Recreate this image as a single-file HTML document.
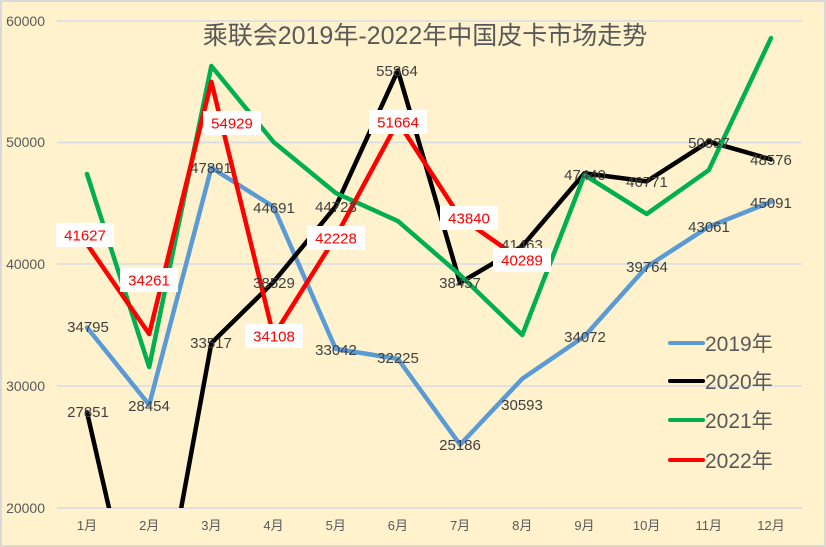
<!DOCTYPE html>
<html><head><meta charset="utf-8"><style>
html,body{margin:0;padding:0;background:#fff;width:826px;height:547px;overflow:hidden}
svg{display:block}
text{font-family:"Liberation Sans","Noto Sans CJK SC",sans-serif}
</style></head><body>
<svg id="s" width="826" height="547" xmlns="http://www.w3.org/2000/svg">
<defs><clipPath id="c"><rect x="50" y="0" width="760" height="508"/></clipPath></defs>
<rect x="1" y="1" width="824" height="545" fill="#FFF2CC" stroke="#D9D9D9" stroke-width="2"/>
<g stroke="#D6DCE5" stroke-width="1.5">
<line x1="57" x2="802" y1="21" y2="21"/><line x1="57" x2="802" y1="142.5" y2="142.5"/><line x1="57" x2="802" y1="264" y2="264"/><line x1="57" x2="802" y1="386" y2="386"/><line x1="57" x2="802" y1="508" y2="508"/>
</g>
<g font-size="14" fill="#595959" text-anchor="end">
<text x="45" y="26">60000</text><text x="45" y="147">50000</text><text x="45" y="269">40000</text><text x="45" y="391">30000</text><text x="45" y="513">20000</text>
</g>
<g id="months" font-size="13" fill="#595959" text-anchor="middle"></g>
<text x="425" y="44" font-size="25" fill="#595959" text-anchor="middle">乘联会2019年-2022年中国皮卡市场走势</text>
<g id="lines" clip-path="url(#c)" fill="none" stroke-width="4.5" stroke-linejoin="round" stroke-linecap="round"></g>
<g font-size="15" fill="#404040" text-anchor="middle">
<text x="88" y="332">34795</text><text x="149" y="411">28454</text><text x="211" y="173">47891</text><text x="274" y="213">44691</text><text x="336" y="355">33042</text><text x="398" y="363">32225</text><text x="460" y="450">25186</text><text x="522" y="410">30593</text><text x="585" y="342">34072</text><text x="647" y="272">39764</text><text x="709" y="232">43061</text><text x="771" y="208">45091</text>
<text x="88" y="417">27851</text><text x="211" y="348">33517</text><text x="274" y="288">38529</text><text x="336" y="212">44723</text><text x="397" y="76">55864</text><text x="460" y="288">38457</text><text x="522" y="250">41463</text><text x="585" y="180">47440</text><text x="647" y="187">46771</text><text x="709" y="148">50037</text><text x="771" y="165">48576</text>
</g>
<g id="boxes"></g>
<g font-size="21" fill="#595959">
<line x1="670" x2="703" y1="343" y2="343" stroke="#5B9BD5" stroke-width="4" stroke-linecap="round"/><text x="705" y="351">2019年</text>
<line x1="670" x2="703" y1="381" y2="381" stroke="#000" stroke-width="4" stroke-linecap="round"/><text x="705" y="389">2020年</text>
<line x1="670" x2="703" y1="420" y2="420" stroke="#00B050" stroke-width="4" stroke-linecap="round"/><text x="705" y="428">2021年</text>
<line x1="670" x2="703" y1="460" y2="460" stroke="#FF0000" stroke-width="4" stroke-linecap="round"/><text x="705" y="468">2022年</text>
</g>
</svg>
<script>
var NS="http://www.w3.org/2000/svg";
function X(i){return 87+i*62.18}
function Y(v){return 508-(v-20000)*0.0122}
var m=document.getElementById("months");
for(var i=0;i<12;i++){var t=document.createElementNS(NS,"text");t.setAttribute("x",X(i));t.setAttribute("y",530);t.textContent=(i+1)+"月";m.appendChild(t);}
var S=[
["#5B9BD5",[34795,28454,47891,44691,33042,32225,25186,30593,34072,39764,43061,45091]],
["#000000",[27851,5650,33517,38529,44723,55864,38457,41463,47440,46771,50037,48576]],
["#00B050",[47377,31557,56230,50000,45820,43520,39100,34180,47300,44100,47700,58520]],
["#FF0000",[41627,34261,54929,34108,42228,51664,43840,40289]]];
var g=document.getElementById("lines");
S.forEach(function(s){var p=s[1].map(function(v,i){return X(i)+","+Y(v)}).join(" ");
var l=document.createElementNS(NS,"polyline");l.setAttribute("points",p);l.setAttribute("stroke",s[0]);g.appendChild(l);});
var B=[[41627,85,235],[34261,149,280],[54929,232,123],[34108,274,336],[42228,336,238],[51664,398,122],[43840,469,218],[40289,522,260]];
var b=document.getElementById("boxes");
B.forEach(function(d){var r=document.createElementNS(NS,"rect");r.setAttribute("x",d[1]-29);r.setAttribute("y",d[2]-12);r.setAttribute("width",58);r.setAttribute("height",24);r.setAttribute("fill","#fff");b.appendChild(r);
var t=document.createElementNS(NS,"text");t.setAttribute("x",d[1]);t.setAttribute("y",d[2]+5.5);t.setAttribute("text-anchor","middle");t.setAttribute("font-size","15");t.setAttribute("fill","#FF0000");t.textContent=d[0];b.appendChild(t);});
</script>
</body></html>
